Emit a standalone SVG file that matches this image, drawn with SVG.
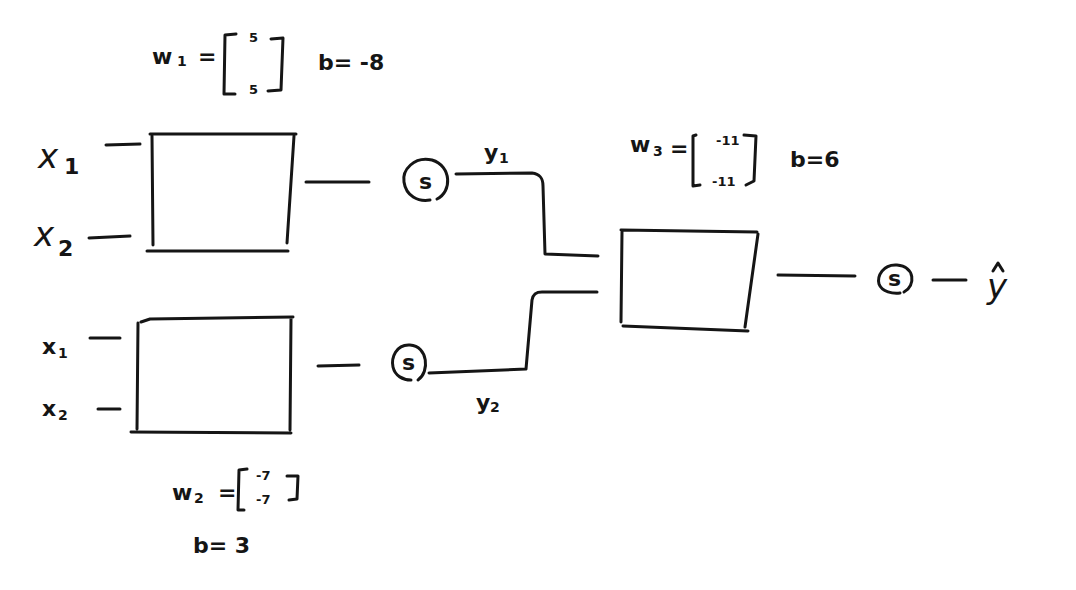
<svg xmlns="http://www.w3.org/2000/svg" width="1076" height="590" viewBox="0 0 1076 590">
<style>
.s{fill:none;stroke:#151515;stroke-width:3;stroke-linecap:round;stroke-linejoin:round}
.t{font-family:"DejaVu Sans","Liberation Sans",sans-serif;fill:#151515}
.lab{font-size:34px;font-style:italic}
.sm{font-size:22px;font-weight:bold}
.xs{font-size:13px;font-weight:bold}
.sub{font-size:14px;font-weight:bold}
</style>
<rect width="1076" height="590" fill="#ffffff"/>
<g id="param1">
<text class="t sm" x="152" y="64">w</text><text class="t sub" x="177" y="66">1</text>
<text class="t sm" x="198" y="64">=</text>
<path class="s" d="M236,34 L225,35 L224,94 L235,94"/>
<text class="t xs" x="249" y="42">5</text>
<text class="t xs" x="249" y="94">5</text>
<path class="s" d="M271,39 L283,38 L281,90 L268,91"/>
<text class="t sm" x="318" y="70">b= -8</text>
</g>
<g id="param2">
<text class="t sm" x="172" y="500">w</text><text class="t sub" x="194" y="503">2</text>
<text class="t sm" x="218" y="500">=</text>
<path class="s" d="M247,469 L239,470 L238,510 L244,510"/>
<text class="t xs" x="256" y="480">-7</text>
<text class="t xs" x="256" y="504">-7</text>
<path class="s" d="M287,476 L298,476 L297,499 L289,500"/>
<text class="t sm" x="193" y="553">b= 3</text>
</g>
<g id="param3">
<text class="t sm" x="630" y="152">w</text><text class="t sub" x="653" y="156">3</text>
<text class="t sm" x="670" y="156">=</text>
<path class="s" d="M696,135 L693,136 L693,186 L700,185"/>
<text class="t xs" x="716" y="145">-11</text>
<text class="t xs" x="712" y="186">-11</text>
<path class="s" d="M744,135 L756,136 L754,181 L746,185"/>
<text class="t sm" x="790" y="167">b=6</text>
</g>
<g id="inputs1">
<text class="t lab" x="38" y="168">x</text><text class="t sm" x="64" y="174">1</text>
<text class="t lab" x="34" y="246">x</text><text class="t sm" x="58" y="256">2</text>
</g>
<g id="inputs2">
<text class="t sm" x="42" y="354">x</text><text class="t sub" x="58" y="358">1</text>
<text class="t sm" x="42" y="416">x</text><text class="t sub" x="58" y="420">2</text>
</g>
<g id="box1">
<path class="s" d="M150,134 L296,134 M152,136 L153,245 M294,136 L287,243 M147,251 L288,251"/>
</g>
<g id="box2">
<path class="s" d="M141,322 L150,319 L293,317 M138,323 L137,429 M291,319 L290,430 M131,432 L291,433"/>
</g>
<g id="box3">
<path class="s" d="M621,230 L757,232 M622,232 L621,322 M758,234 L745,327 M623,326 L748,331"/>
</g>
<g id="sig1">
<path class="s" d="M437,199 C452,192 452,166 432,160 C414,156 402,170 404,182 C406,196 418,202 430,200"/>
<text class="t sm" x="419" y="189">s</text>
</g>
<g id="sig2">
<path class="s" d="M418,380 C430,372 428,346 410,345 C396,344 391,358 393,367 C395,376 403,380 411,380"/>
<text class="t sm" x="402" y="370">s</text>
</g>
<g id="sig3">
<path class="s" d="M904,292 C916,286 915,266 897,265 C883,264 877,276 879,284 C882,292 893,294 900,293"/>
<text class="t sm" x="888" y="286">s</text>
</g>
<g id="labels">
<text class="t sm" x="484" y="160">y</text><text class="t sub" x="499" y="163">1</text>
<text class="t sm" x="476" y="410">y</text><text class="t sub" x="490" y="412">2</text>
<text class="t lab" x="987" y="298">y</text>
<path class="s" d="M993,271 L998,263 L1003,271"/>
</g>
<g id="connectors">
<path class="s" d="M106,145 L140,144"/>
<path class="s" d="M89,238 L130,236"/>
<path class="s" d="M90,338 L120,338"/>
<path class="s" d="M98,409 L120,409"/>
<path class="s" d="M306,182 L369,182"/>
<path class="s" d="M318,366 L359,365"/>
<path class="s" d="M456,174 L532,173 C540,174 543,178 543,186 L545,254 L598,256"/>
<path class="s" d="M429,373 L526,369 L532,300 C533,294 536,292 542,292 L597,292"/>
<path class="s" d="M778,275 L855,276"/>
<path class="s" d="M933,280 L966,280"/>
</g>
</svg>
